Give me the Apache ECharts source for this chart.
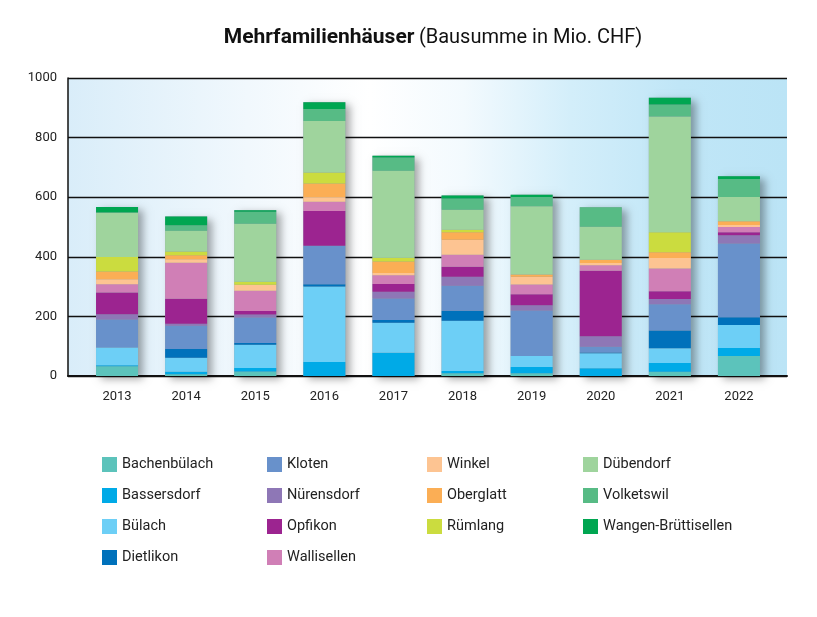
<!DOCTYPE html>
<html>
<head>
<meta charset="utf-8">
<script src="https://cdn.jsdelivr.net/npm/echarts@6/dist/echarts.min.js"></script>
<style>html,body{margin:0;padding:0;background:#fff}#c{width:817px;height:617px}</style>
</head>
<body>
<div id="c"></div>
<script>
const years = ['2013','2014','2015','2016','2017','2018','2019','2020','2021','2022'];
const yTicks = [0, 200, 400, 600, 800, 1000];

const Bachenbuelach = [33, 6, 15, 0, 0, 9, 9, 0, 14, 67];
const Bassersdorf   = [3, 8, 12, 47, 78, 8, 21, 26, 30, 27];
const Buelach       = [60, 47, 78, 253, 101, 168, 37, 50, 49, 77];
const Dietlikon     = [0, 30, 6, 8, 9, 34, 0, 3, 60, 26];
const Kloten        = [94, 78, 85, 129, 72, 84, 153, 19, 88, 248];
const Nuerensdorf   = [17, 6, 10, 0, 23, 30, 17, 35, 17, 27];
const Opfikon       = [73, 84, 12, 117, 26, 34, 37, 220, 26, 10];
const Wallisellen   = [28, 121, 68, 31, 29, 40, 33, 19, 77, 18];
const Winkel        = [17, 12, 20, 15, 8, 50, 26, 7, 35, 7];
const Oberglatt     = [26, 13, 0, 46, 38, 25, 8, 11, 19, 12];
const Ruemlang      = [48, 13, 10, 37, 13, 9, 0, 0, 67, 0];
const Duebendorf    = [150, 69, 195, 173, 292, 67, 229, 111, 389, 82];
const Volketswil    = [0, 19, 40, 40, 44, 38, 31, 65, 40, 60];
const Wangen        = [18, 29, 5, 23, 6, 10, 7, 0, 23, 9];

const seriesDefs = [
  ['Bachenbülach', Bachenbuelach, '#5cc3bb'],
  ['Bassersdorf', Bassersdorf, '#00aae7'],
  ['Bülach', Buelach, '#6dcff6'],
  ['Dietlikon', Dietlikon, '#0071bb'],
  ['Kloten', Kloten, '#6891cb'],
  ['Nürensdorf', Nuerensdorf, '#8e77b6'],
  ['Opfikon', Opfikon, '#9c2490'],
  ['Wallisellen', Wallisellen, '#d07fb6'],
  ['Winkel', Winkel, '#fdc492'],
  ['Oberglatt', Oberglatt, '#fbae55'],
  ['Rümlang', Ruemlang, '#cbdc3f'],
  ['Dübendorf', Duebendorf, '#9fd49d'],
  ['Volketswil', Volketswil, '#57bb85'],
  ['Wangen-Brüttisellen', Wangen, '#00a651']
];

const totals = years.map((_, i) => seriesDefs.reduce((s, d) => s + d[1][i], 0));

const FONT = 'Roboto, "Liberation Sans", sans-serif';
const chart = echarts.init(document.getElementById('c'), null, {renderer: 'canvas'});

const legendCols = [
  ['Bachenbülach', 'Bassersdorf', 'Bülach', 'Dietlikon'],
  ['Kloten', 'Nürensdorf', 'Opfikon', 'Wallisellen'],
  ['Winkel', 'Oberglatt', 'Rümlang'],
  ['Dübendorf', 'Volketswil', 'Wangen-Brüttisellen']
];
const legendX = [97, 262, 422, 578];

const series = [{
  name: 'total',
  type: 'bar',
  xAxisIndex: 1, yAxisIndex: 1,
  data: totals,
  barWidth: 42,
  barGap: '-100%',
  z: 1,
  silent: true,
  itemStyle: {color: '#8a9aa6', shadowBlur: 8, shadowColor: 'rgba(0,0,0,0.35)', shadowOffsetX: 5, shadowOffsetY: 3}
}].concat(seriesDefs.map(d => ({
  name: d[0],
  type: 'bar',
  stack: 'all',
  xAxisIndex: 1, yAxisIndex: 1,
  data: d[1],
  barWidth: 42,
  z: 3,
  itemStyle: {color: d[2]}
})));

chart.setOption({
  animation: false,
  textStyle: {fontFamily: FONT},
  title: {
    text: '{b|Mehrfamilienhäuser} {n|(Bausumme in Mio. CHF)}',
    left: 428, top: 22, textAlign: 'center',
    textStyle: {
      rich: {
        b: {fontFamily: FONT, fontWeight: 'bold', fontSize: 21, color: '#111'},
        n: {fontFamily: FONT, fontWeight: 'normal', fontSize: 20, color: '#111'}
      }
    }
  },
  legend: legendCols.map((col, i) => ({
    data: col,
    orient: 'vertical',
    left: legendX[i],
    top: 452,
    itemWidth: 15, itemHeight: 15,
    itemGap: 16,
    icon: 'rect',
    selectedMode: false,
    textStyle: {fontFamily: FONT, fontSize: 14.5, color: '#222'}
  })),
  grid: [
    {left: 68, right: 30, top: 78, bottom: 241, show: true, borderWidth: 0,
     backgroundColor: new echarts.graphic.LinearGradient(0, 0, 1, 0, [
       {offset: 0, color: '#d9edf9'},
       {offset: 0.25, color: '#f1f8fd'},
       {offset: 0.42, color: '#ffffff'},
       {offset: 0.55, color: '#f3fafe'},
       {offset: 0.7, color: '#d3eefa'},
       {offset: 0.85, color: '#c0e6f7'},
       {offset: 1, color: '#bbe4f6'}
     ])},
    {left: 82.5, width: 691, top: 78, bottom: 241}
  ],
  xAxis: [
    {gridIndex: 0, type: 'value', min: 0, max: 1, show: true,
     axisLine: {show: true, onZero: false, lineStyle: {color: '#111', width: 2}},
     axisTick: {show: false}, axisLabel: {show: false}, splitLine: {show: false}},
    {gridIndex: 1, type: 'category', data: years,
     axisLine: {show: false}, axisTick: {show: false},
     axisLabel: {margin: 14, fontSize: 13, color: '#222', fontFamily: FONT}}
  ],
  yAxis: [
    {gridIndex: 0, type: 'value', min: yTicks[0], max: yTicks[yTicks.length - 1], interval: 200,
     axisLine: {show: true, lineStyle: {color: '#111', width: 1.5}},
     axisTick: {show: false},
     axisLabel: {margin: 11, fontSize: 13, color: '#222', fontFamily: FONT, formatter: v => String(v)},
     splitLine: {show: true, lineStyle: {color: '#111', width: 1.3}}},
    {gridIndex: 1, type: 'value', min: yTicks[0], max: yTicks[yTicks.length - 1], interval: 200,
     show: false, splitLine: {show: false}}
  ],
  series: series
});
</script>
</body>
</html>
